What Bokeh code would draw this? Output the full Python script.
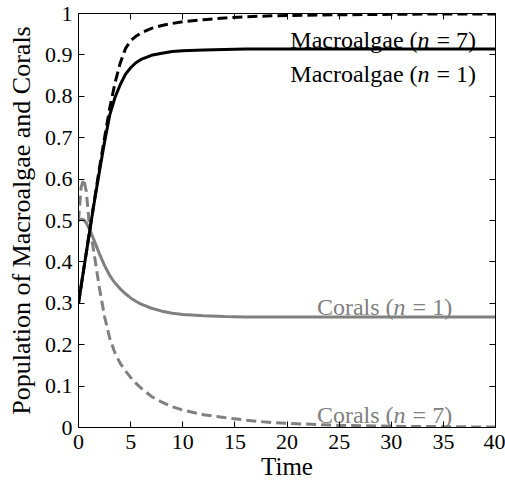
from bokeh.plotting import figure
from bokeh.models import Range1d, LinearAxis, FixedTicker, CustomJSTickFormatter, ColumnDataSource
from bokeh.core.properties import value
from bokeh.embed import file_html
from bokeh.resources import INLINE

time = [0, 0.25, 0.5, 0.75, 1, 1.5, 2, 2.5, 3, 3.5, 4, 4.5, 5, 5.5, 6, 7, 8, 9, 10,
        12, 14, 16, 18, 20, 25, 30, 35, 40]
macro_n1 = [0.300, 0.341, 0.382, 0.422, 0.463, 0.542, 0.617, 0.690, 0.755, 0.797, 0.828,
            0.853, 0.869, 0.881, 0.889, 0.899, 0.904, 0.908, 0.910, 0.912, 0.913, 0.914,
            0.914, 0.914, 0.914, 0.914, 0.914, 0.914]
macro_n7 = [0.300, 0.341, 0.382, 0.423, 0.464, 0.545, 0.625, 0.700, 0.772, 0.832, 0.880,
            0.915, 0.934, 0.945, 0.953, 0.964, 0.971, 0.976, 0.980, 0.985, 0.989, 0.992,
            0.994, 0.995, 0.997, 0.998, 0.999, 0.999]
coral_n1 = [0.500, 0.503, 0.502, 0.494, 0.482, 0.452, 0.420, 0.391, 0.367, 0.349, 0.335,
            0.323, 0.313, 0.305, 0.298, 0.288, 0.281, 0.276, 0.273, 0.270, 0.268, 0.267,
            0.267, 0.267, 0.267, 0.267, 0.267, 0.267]
coral_n7 = [0.500, 0.580, 0.600, 0.570, 0.500, 0.420, 0.338, 0.268, 0.215, 0.180, 0.155,
            0.137, 0.121, 0.107, 0.095, 0.075, 0.061, 0.050, 0.042, 0.031, 0.024, 0.018,
            0.013, 0.010, 0.005, 0.003, 0.002, 0.001]

x_ticks = [0, 5, 10, 15, 20, 25, 30, 35, 40]
y_ticks = [0, 0.1, 0.2, 0.3, 0.4, 0.5, 0.6, 0.7, 0.8, 0.9, 1]

# curve labels: "<prefix><italic var> <suffix>"
label_prefix = ["Macroalgae (", "Macroalgae (", "Corals (", "Corals ("]
label_var = ["n", "n", "n", "n"]
label_suffix = ["= 7)", "= 1)", "= 1)", "= 7)"]
label_x = [33.1, 33.1, 30.8, 30.8]
label_y = [0.935, 0.854, 0.292, 0.029]
label_colors = ["black", "black", "gray", "gray"]

FONT = "Liberation Serif"

p = figure(frame_width=417, frame_height=414,
           x_range=Range1d(0, 40), y_range=Range1d(0, 1),
           output_backend="svg", toolbar_location=None,
           min_border_left=78, min_border_right=10, min_border_top=13, min_border_bottom=53)
p.xgrid.visible = False
p.ygrid.visible = False
p.outline_line_color = "black"
p.outline_line_width = 1
p.outline_line_alpha = 1
p.background_fill_color = "white"
p.border_fill_color = "white"

fmt = CustomJSTickFormatter(code="return String(Number(tick.toFixed(2)));")
blank = CustomJSTickFormatter(code="return '';")

def style_axis(ax, ticks, labels=True):
    ax.ticker = FixedTicker(ticks=ticks)
    ax.major_tick_in = 6
    ax.major_tick_out = 0
    ax.minor_tick_line_color = None
    ax.axis_line_color = "black"
    ax.major_tick_line_color = "black"
    ax.major_label_text_font = FONT
    ax.major_label_text_color = "black"
    ax.axis_label_text_font = FONT
    ax.axis_label_text_font_style = "normal"
    ax.axis_label_text_color = "black"
    ax.major_label_text_font_size = "22px"
    ax.axis_label_text_font_size = "25px"
    if labels:
        ax.formatter = fmt
    else:
        ax.formatter = blank
        ax.major_label_standoff = 0

style_axis(p.xaxis[0], x_ticks)
style_axis(p.yaxis[0], y_ticks)
p.xaxis[0].axis_label = "Time"
p.yaxis[0].axis_label = "Population of Macroalgae and Corals"
p.yaxis[0].axis_label_text_font_size = "26px"
p.xaxis[0].major_label_standoff = 7
p.xaxis[0].axis_label_standoff = 1
p.yaxis[0].major_label_standoff = 6
p.yaxis[0].axis_label_standoff = 6

top = LinearAxis()
style_axis(top, x_ticks, labels=False)
p.add_layout(top, "above")
right = LinearAxis()
style_axis(right, y_ticks, labels=False)
p.add_layout(right, "right")

src = ColumnDataSource(dict(t=time, m1=macro_n1, m7=macro_n7, c1=coral_n1, c7=coral_n7))
p.line("t", "c7", source=src, line_color="gray", line_width=3, line_dash="10 5")
p.line("t", "c1", source=src, line_color="gray", line_width=3)
p.line("t", "m7", source=src, line_color="black", line_width=3, line_dash="10 5")
p.line("t", "m1", source=src, line_color="black", line_width=3)

lsrc = ColumnDataSource(dict(x=label_x, y=label_y, pre=label_prefix, var=label_var,
                             suf=label_suffix, color=label_colors))
common = dict(source=lsrc, text_color="color", text_baseline="alphabetic",
              text_font=value(FONT), text_font_size="24px")
p.text("x", "y", text="pre", text_align="right", x_offset=-6, **common)
p.text("x", "y", text="var", text_align="center", text_font_style="italic", **common)
p.text("x", "y", text="suf", text_align="left", x_offset=13, **common)

open("out.html", "w").write(file_html(p, INLINE))
